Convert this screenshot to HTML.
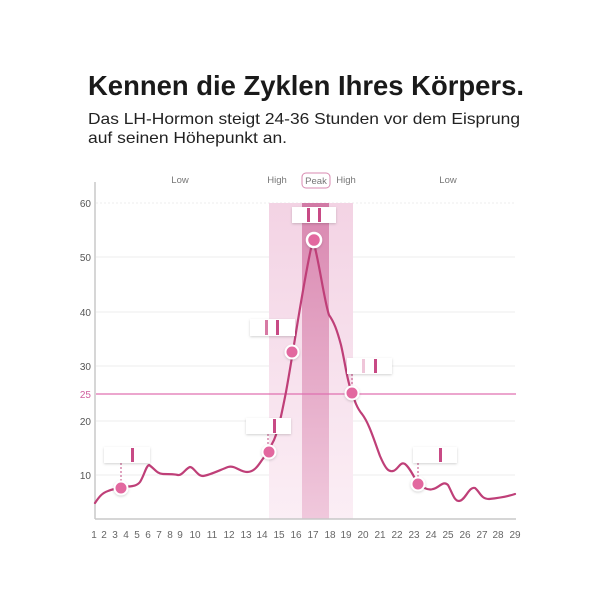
<!DOCTYPE html>
<html><head><meta charset="utf-8"><style>html,body{margin:0;padding:0;background:#fff}</style></head>
<body>
<svg width="600" height="600" viewBox="0 0 600 600" xmlns="http://www.w3.org/2000/svg" font-family="Liberation Sans, sans-serif">
<defs>
<linearGradient id="gOut" x1="0" y1="0" x2="0" y2="1"><stop offset="0" stop-color="#f3d3e4"/><stop offset="1" stop-color="#fbeef5"/></linearGradient>
<linearGradient id="gIn" x1="0" y1="0" x2="0" y2="1"><stop offset="0" stop-color="#d987b0"/><stop offset="1" stop-color="#f0c8dc"/></linearGradient>
<filter id="sh" x="-20%" y="-30%" width="140%" height="170%"><feDropShadow dx="0" dy="1" stdDeviation="1.2" flood-color="#000" flood-opacity="0.18"/></filter>
</defs>
<text x="88" y="95" font-size="28" font-weight="bold" fill="#1a1a1a" textLength="436" lengthAdjust="spacingAndGlyphs">Kennen die Zyklen Ihres Körpers.</text>
<text x="88" y="124" font-size="16" fill="#222" textLength="432" lengthAdjust="spacingAndGlyphs">Das LH-Hormon steigt 24-36 Stunden vor dem Eisprung</text>
<text x="88" y="143" font-size="16" fill="#222" textLength="199" lengthAdjust="spacingAndGlyphs">auf seinen Höhepunkt an.</text>

<!-- gridlines -->
<g stroke="#eee" stroke-width="1">
<line x1="96" y1="203" x2="515" y2="203" stroke-dasharray="2,2"/>
<line x1="96" y1="257" x2="515" y2="257"/>
<line x1="96" y1="312" x2="515" y2="312"/>
<line x1="96" y1="366" x2="515" y2="366"/>
<line x1="96" y1="421" x2="515" y2="421"/>
<line x1="96" y1="475" x2="515" y2="475"/>
</g>
<!-- bands -->
<rect x="269" y="203" width="84" height="316" fill="url(#gOut)"/>
<rect x="302" y="203" width="27" height="316" fill="url(#gIn)"/>
<line x1="95" y1="182" x2="95" y2="519" stroke="#c8c8c8" stroke-width="1.5"/>
<line x1="95" y1="519" x2="516" y2="519" stroke="#c8c8c8" stroke-width="1.5"/>
<line x1="96" y1="394" x2="516" y2="394" stroke="#e070b0" stroke-width="1.3"/>
<g font-size="10" fill="#555" text-anchor="end">
<text x="91" y="207">60</text><text x="91" y="261">50</text><text x="91" y="316">40</text><text x="91" y="370">30</text>
<text x="91" y="398" fill="#d0609e">25</text><text x="91" y="425">20</text><text x="91" y="479">10</text>
</g>
<g font-size="10" fill="#666" text-anchor="middle">
<text x="94" y="538">1</text><text x="104" y="538">2</text><text x="115" y="538">3</text><text x="126" y="538">4</text><text x="137" y="538">5</text><text x="148" y="538">6</text><text x="159" y="538">7</text><text x="170" y="538">8</text><text x="180" y="538">9</text>
<text x="195" y="538">10</text><text x="212" y="538">11</text><text x="229" y="538">12</text><text x="246" y="538">13</text><text x="262" y="538">14</text><text x="279" y="538">15</text><text x="296" y="538">16</text><text x="313" y="538">17</text><text x="330" y="538">18</text><text x="346" y="538">19</text><text x="363" y="538">20</text><text x="380" y="538">21</text><text x="397" y="538">22</text><text x="414" y="538">23</text><text x="431" y="538">24</text><text x="448" y="538">25</text><text x="465" y="538">26</text><text x="482" y="538">27</text><text x="498" y="538">28</text><text x="515" y="538">29</text>
</g>
<g font-size="9.5" fill="#777" text-anchor="middle">
<text x="180" y="183">Low</text><text x="277" y="183">High</text><text x="346" y="183">High</text><text x="448" y="183">Low</text>
<rect x="302" y="173" width="28" height="15" rx="4" fill="#fff" stroke="#d88ab0"/>
<text x="316" y="184">Peak</text>
</g>
<rect x="302" y="203" width="27" height="4" fill="#d27aa6"/>
<!-- curve -->
<path fill="none" stroke="#bf3f78" stroke-width="2.2" stroke-linejoin="round" stroke-linecap="round"
d="M95,503 C99,497 102,493 108,491 C113,489 118,488 124,487 C130,486 136,487 140,482 C144,476 146,466 149,465 C154,468 157,474 163,474 C170,474 174,474 178,475 C182,476 186,468 190,467 C194,467 197,476 203,476 C210,475 220,470 228,467 C235,465 240,472 247,472 C254,472 258,466 262,460 C266,455 270,448 274,440 C279,428 282,412 286,392 C290,370 294,345 298,320 C303,290 309,255 313,240 C319,260 324,300 329,315 C334,322 337,330 341,345 C345,362 347,380 351,390 C355,402 357,408 362,414 C369,423 374,440 380,456 C386,470 389,472 393,471 C398,470 400,461 405,464 C410,468 414,477 418,484 C422,487 428,491 433,489 C439,488 443,480 448,485 C452,492 454,501 459,501 C465,501 469,486 475,488 C480,492 481,499 489,499 C498,498 506,497 515,494"/>
<!-- connectors -->
<g stroke="#c04a80" stroke-width="1" stroke-dasharray="2,2">
<line x1="121" y1="463" x2="121" y2="486"/><line x1="268" y1="434" x2="268" y2="451"/>
<line x1="352" y1="374" x2="352" y2="391"/><line x1="418" y1="463" x2="418" y2="482"/>
</g>
<!-- markers -->
<g fill="#e2679f" stroke="#fff" stroke-width="2" filter="url(#sh)">
<circle cx="121" cy="488" r="6.5"/><circle cx="269" cy="452" r="6.5"/><circle cx="292" cy="352" r="6.5"/>
<circle cx="352" cy="393" r="6.5"/><circle cx="418" cy="484" r="6.5"/>
<circle cx="314" cy="240" r="7" stroke-width="2.5"/>
</g>
<!-- test strips -->
<g filter="url(#sh)" fill="#fff">
<rect x="104" y="447" width="46" height="16"/><rect x="246" y="418" width="45" height="16"/>
<rect x="250" y="319" width="45" height="17"/><rect x="292" y="207" width="44" height="16"/>
<rect x="347" y="358" width="45" height="16"/><rect x="413" y="447" width="44" height="16"/>
</g>
<g fill="#c84a85">
<rect x="131" y="448" width="3" height="14"/>
<rect x="273" y="419" width="3" height="14"/>
<rect x="265" y="320" width="3" height="15" fill="#d77aa4"/><rect x="276" y="320" width="3" height="15"/>
<rect x="307" y="208" width="3" height="14"/><rect x="318" y="208" width="3" height="14"/>
<rect x="362" y="359" width="3" height="14" fill="#efc6d9"/><rect x="374" y="359" width="3" height="14"/>
<rect x="439" y="448" width="3" height="14"/>
</g>
</svg>
</body></html>
